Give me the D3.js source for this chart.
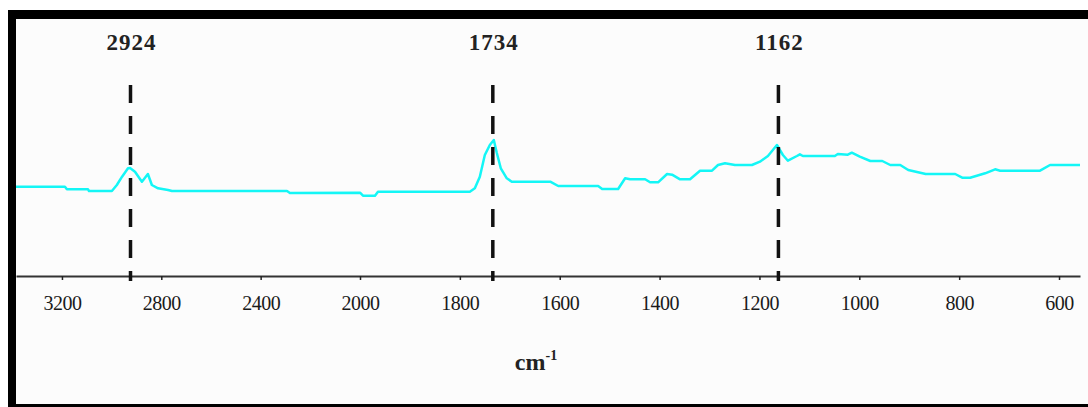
<!DOCTYPE html>
<html>
<head>
<meta charset="utf-8">
<script src="https://cdn.jsdelivr.net/npm/d3@7"></script>
<style>
  body { margin: 0; background: #fff; }
  svg { display: block; }
</style>
</head>
<body>
<div id="chart-area"></div>
<script>
// spectrum points: wavenumber (cm-1) and signal (arbitrary units)
var wavenumbers = [3385, 3188, 3180, 3095, 3091, 2999, 2979, 2958, 2934, 2926, 2906, 2878, 2854, 2838, 2813, 2773, 2757,
	2294, 2282, 2000, 1994, 1970, 1964, 1780, 1770, 1760, 1750, 1740, 1732, 1726, 1718, 1706, 1696,
	1619, 1603, 1523, 1515, 1483, 1469, 1459, 1429, 1419, 1403, 1385, 1375, 1359, 1339, 1319, 1295,
	1283, 1269, 1249, 1215, 1199, 1183, 1165, 1153, 1143, 1125, 1119, 1113, 1049, 1043, 1023, 1015,
	999, 978, 954, 938, 918, 902, 867, 808, 794, 778, 748, 728, 718, 638, 618, 558];
var signal = [89.3, 89.3, 86.7, 86.7, 85, 85, 91, 99.3, 107.7, 108, 104.3, 94.3, 102, 91, 87.7, 86, 85,
	85, 83, 83.3, 80.3, 80.3, 84.3, 84.3, 87.7, 99.3, 121, 131, 136, 123, 107.7, 97.7, 94.3,
	94.3, 90, 90, 87, 87, 97.7, 96.7, 96.7, 93.7, 93.7, 102, 101.3, 96.7, 96.7, 105.3, 105.3,
	111, 112.7, 111, 111, 114.3, 120, 131, 121, 115.3, 120, 121.7, 120, 120, 122, 121.3, 123.3,
	119.3, 115, 115, 111, 111, 106, 102, 102, 98.3, 98.3, 102.7, 106.7, 105.3, 105.3, 111, 111];

var tickValues = [3200, 2800, 2400, 2000, 1800, 1600, 1400, 1200, 1000, 800, 600];
var peaks = [2924, 1734, 1162];

var width = 1088, height = 407;

var svg = d3.select("#chart-area")
.append("svg")
	.attr("width", width)
	.attr("height", height);

// frame: black bar on top, left and bottom
svg.append("rect")
	.attr("x", 8).attr("y", 10)
	.attr("width", width - 8).attr("height", height - 10)
	.attr("fill", "#000");
svg.append("rect")
	.attr("x", 16).attr("y", 19)
	.attr("width", width - 16).attr("height", 385)
	.attr("fill", "#fcfcfc");

// X scale, expanded above 2000 cm-1
var x = d3.scaleLinear()
	.domain([3385, 2000, 558])
	.range([16, 360, 1080]);

// Y scale
var y = d3.scaleLinear()
	.domain([0, 256])
	.range([276, 20]);

// X axis
var xAxisCall = d3.axisBottom(x)
	.tickValues(tickValues)
	.tickSize(4)
	.tickSizeOuter(0)
	.tickPadding(16)
	.tickFormat(d3.format("d"));
var xAxis = svg.append("g")
	.attr("transform", "translate(0, 276)")
	.call(xAxisCall);
xAxis.select(".domain")
	.attr("stroke", "#333")
	.attr("stroke-width", 2);
xAxis.selectAll(".tick line")
	.attr("stroke", "#222")
	.attr("stroke-width", 1.5);
xAxis.selectAll(".tick text")
	.attr("font-family", "Liberation Serif")
	.attr("font-size", "20px")
	.attr("fill", "#1a1a1a")
	.attr("letter-spacing", "-0.5px");

// spectrum
var line = d3.line()
	.x(function(d){ return x(d[0]); })
	.y(function(d){ return y(d[1]); });

svg.append("path")
	.datum(d3.zip(wavenumbers, signal))
	.attr("fill", "none")
	.attr("stroke", "#14f6f6")
	.attr("stroke-width", 2.5)
	.attr("stroke-linejoin", "round")
	.attr("d", line);

// peak markers
peaks.forEach(function(p){
	svg.append("line")
		.attr("x1", x(p)).attr("x2", x(p))
		.attr("y1", 85).attr("y2", 281)
		.attr("stroke", "#111")
		.attr("stroke-width", 3.5)
		.attr("stroke-dasharray", "18,13");

	svg.append("text")
		.attr("x", x(p) + 1)
		.attr("y", 50)
		.attr("text-anchor", "middle")
		.attr("font-family", "Liberation Serif")
		.attr("font-weight", "bold")
		.attr("font-size", "23px")
		.attr("letter-spacing", "1px")
		.attr("fill", "#222")
		.text(p);
});

// X label
var xLabel = svg.append("text")
	.attr("x", 536)
	.attr("y", 370)
	.attr("text-anchor", "middle")
	.attr("font-family", "Liberation Serif")
	.attr("font-weight", "bold")
	.attr("font-size", "24px")
	.attr("fill", "#222")
	.text("cm");
xLabel.append("tspan")
	.attr("dy", -10)
	.attr("font-size", "14px")
	.text("-1");
</script>
</body>
</html>
